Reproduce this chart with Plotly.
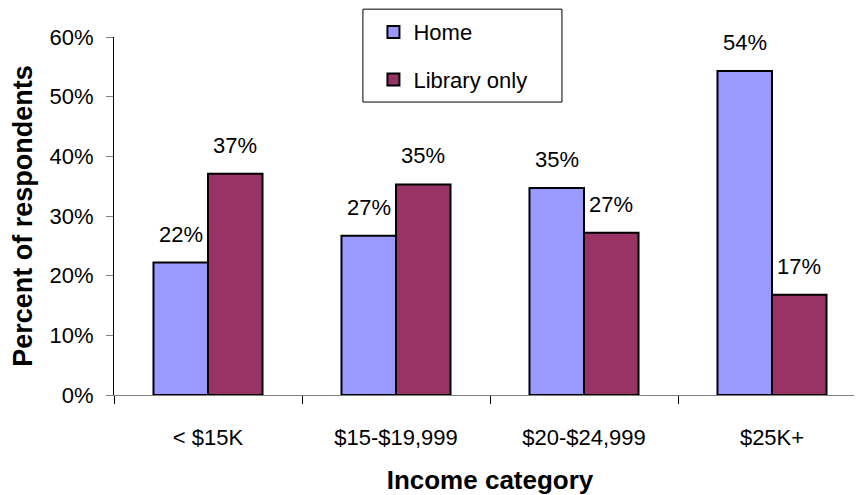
import plotly.graph_objects as go

categories = ["< $15K", "$15-$19,999", "$20-$24,999", "$25K+"]
home = [22.2, 26.7, 34.7, 54.3]
library_only = [37.1, 35.3, 27.2, 16.8]
series_names = ["Home", "Library only"]
colors = ["#9999FF", "#993366"]
y_ticks = [0, 10, 20, 30, 40, 50, 60]
y_tick_labels = ["0%", "10%", "20%", "30%", "40%", "50%", "60%"]

FONT = "Liberation Sans, Arial, sans-serif"

fig = go.Figure()
for name, vals, col in zip(series_names, [home, library_only], colors):
    fig.add_trace(go.Bar(
        x=categories, y=vals, name=name,
        marker=dict(color=col, line=dict(color="black", width=2)),
    ))

# value labels above bars, offset left/right to sit over each bar of the group
annotations = []
for vals, shift in zip([home, library_only], [-27, 27]):
    for c, v in zip(categories, vals):
        annotations.append(dict(
            x=c, y=v, xref="x", yref="y", text=f"{round(v)}%",
            showarrow=False, xshift=shift, yshift=14, yanchor="bottom",
            font=dict(family=FONT, size=22, color="black"),
        ))

fig.update_layout(
    width=862, height=495,
    margin=dict(l=106, r=4, t=0, b=108, autoexpand=False),
    paper_bgcolor="white", plot_bgcolor="white",
    barmode="group", bargap=0.42, bargroupgap=0,
    font=dict(family=FONT, size=22, color="black"),
    legend=dict(x=0.345, y=0.992, xanchor="left", yanchor="top",
                bgcolor="rgba(0,0,0,0)", borderwidth=0,
                font=dict(family=FONT, size=22), tracegroupgap=16,
                itemwidth=30),
    showlegend=True,
    annotations=annotations,
    shapes=[dict(type="rect", xref="paper", yref="paper",
                 x0=0.331, x1=0.5957, y0=0.757, y1=0.997,
                 line=dict(color="black", width=1), fillcolor="rgba(0,0,0,0)")],
)
for i, tr in enumerate(fig.data):
    tr.legendgroup = f"g{i}"

fig.update_xaxes(
    range=[-0.5, 3.5], showline=True, linecolor="#808080", linewidth=1,
    ticks="outside", tickson="boundaries", ticklen=8, tickcolor="black",
    ticklabelstandoff=23, automargin=False, tickangle=0,
    tickfont=dict(family=FONT, size=22),
    title=dict(text="<b>Income category</b>", font=dict(family=FONT, size=26), standoff=21),
    showgrid=False, zeroline=False,
)
fig.update_yaxes(
    domain=[0, 358 / 387],
    range=[0, 60], tickvals=y_ticks, ticktext=y_tick_labels,
    showline=True, linecolor="black", linewidth=1,
    ticks="outside", ticklen=7, tickcolor="#808080",
    ticklabelstandoff=8, automargin=False,
    tickfont=dict(family=FONT, size=22),
    title=dict(text="<b>Percent of respondents</b>", font=dict(family=FONT, size=27), standoff=12),
    showgrid=False, zeroline=False,
)

fig.write_html("out.html")
